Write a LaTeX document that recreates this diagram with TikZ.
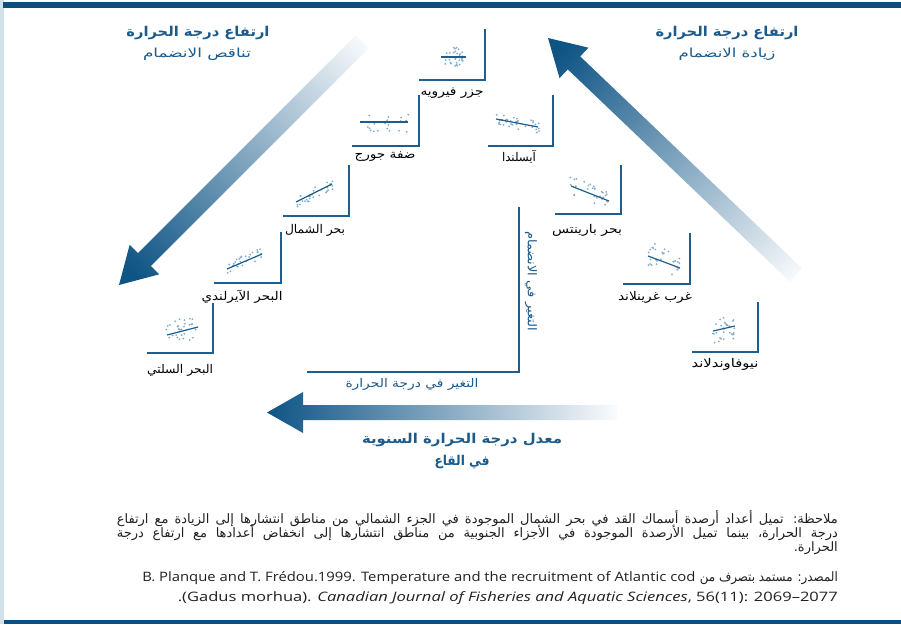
\documentclass[tikz,border=0pt]{standalone}
\usepackage{fontspec}
\usepackage{graphicx}
\setmainfont{Open Sans}
\newfontfamily\ar[Script=Arabic]{DejaVu Sans}
\TeXXeTstate=1
\definecolor{barblue}{HTML}{0B4F80}
\definecolor{txtblue}{HTML}{1B5A8A}
\definecolor{axisblue}{HTML}{1E5E8E}
\definecolor{dotblue}{HTML}{84ABC9}
\definecolor{arrowdark}{HTML}{0E5485}
\definecolor{stripgrey}{HTML}{D3E2EA}
\definecolor{notegrey}{HTML}{231F20}
\pgfdeclarehorizontalshading{fadediag}{100bp}{color(0bp)=(arrowdark); color(18bp)=(arrowdark); color(86bp)=(white); color(100bp)=(white)}
\pgfdeclarehorizontalshading{fadehor}{100bp}{color(0bp)=(arrowdark); color(25bp)=(arrowdark); color(76bp)=(white); color(100bp)=(white)}
\newcommand\fw[2]{\resizebox{#1}{\height}{#2}}
\newcommand\codaxes[4]{\draw[axisline] (#1,#4) -- (#2,#4) -- (#2,#3);}
\newcommand\scat[7]{%
  \pgfmathsetseed{#1}%
  \foreach \i in {1,...,#7}{%
    \pgfmathsetmacro\rx{#2+#4*rand}%
    \pgfmathsetmacro\ry{#3+(#6)*(\rx-(#2))+#5*rand}%
    \fill[dotblue] (\rx,\ry) circle[radius=1pt];
  }}
\begin{document}
\begin{tikzpicture}[x=1pt,y=-1pt,
  axisline/.style={draw=axisblue,line width=1.3pt},
  regline/.style={draw=axisblue,line width=1.2pt},
  plotlabel/.style={font=\ar\fontsize{12}{14}\selectfont,text=black,inner sep=0pt},
  headtitle/.style={font=\ar\bfseries\fontsize{13.5}{15}\selectfont,text=txtblue,inner sep=0pt},
  subtitle/.style={font=\ar\fontsize{12.5}{14}\selectfont,text=txtblue,inner sep=0pt},
  axlabel/.style={font=\ar\fontsize{12}{14}\selectfont,text=txtblue,inner sep=0pt},
  noteline/.style={font=\ar\fontsize{13}{15}\selectfont,text=notegrey,inner sep=0pt,anchor=east},
  srcline/.style={font=\fontsize{13}{15}\selectfont,text=notegrey,inner sep=0pt,anchor=east}]
\useasboundingbox (0,0) rectangle (901,624);
\fill[white] (0,0) rectangle (901,624);
% frame bars
\fill[stripgrey] (0,0) rectangle (4,624);
\fill[barblue] (3,2) rectangle (901,7.5);
\fill[barblue] (4,619.5) rectangle (901,624);
% big arrows
\path[shading=fadediag,shading angle=45]
  (119,285) -- (159.3,274.3) -- (150.9,265.9) -- (368.4,48.4) -- (355.6,35.6) -- (138.1,253.1) -- (129.7,244.7) -- cycle;
\path[shading=fadediag,shading angle=-45]
  (548,38) -- (588.5,47.7) -- (580.2,56.4) -- (802.2,268.5) -- (789.8,281.5) -- (567.8,69.4) -- (559.5,78.1) -- cycle;
\path[shading=fadehor,shading angle=0]
  (267,412.5) -- (303,392) -- (303,405) -- (617,405) -- (617,420) -- (303,420) -- (303,433) -- cycle;
% axis frame of the whole diagram
\coordinate (xl) at (307,372);
\coordinate (xc) at (519,372);
\coordinate (yt) at (519,207);
\draw[axisline,line width=1.1pt] (xl) -- (xc) -- (yt);
\node[axlabel] (xlab) at (412,384) {\fw{133pt}{\beginR التغير في درجة الحرارة\endR}};
\node[axlabel,rotate=-90] (ylab) at (531,281) {\fw{100pt}{\beginR التغير في الانضمام\endR}};
% titles
\node[headtitle] (tl1) at (198,33) {\fw{143pt}{\beginR ارتفاع درجة الحرارة\endR}};
\node[subtitle] (tl2) at (197,54) {\fw{108pt}{\beginR تناقص الانضمام\endR}};
\node[headtitle] (tr1) at (727,33) {\fw{143pt}{\beginR ارتفاع درجة الحرارة\endR}};
\node[subtitle] (tr2) at (727,54) {\fw{97pt}{\beginR زيادة الانضمام\endR}};
\node[headtitle] (bt1) at (462,440) {\fw{200pt}{\beginR معدل درجة الحرارة السنوية\endR}};
\node[headtitle] (bt2) at (462,462) {\fw{55pt}{\beginR في القاع\endR}};
% plots: Faroe
\codaxes{419}{485}{29}{80}
\scat{11}{453}{57}{10}{11}{0}{30}
\draw[regline] (441,57) -- (466,57);
\node[plotlabel] (faroe) at (452,93) {\fw{63pt}{\beginR جزر فيرويه\endR}};
% George's Bank
\codaxes{352}{419}{95}{146}
\scat{12}{384}{123}{25}{9}{0}{20}
\draw[regline] (360,122) -- (408,122);
\node[plotlabel] (george) at (385,157) {\fw{61pt}{\beginR ضفة جورج\endR}};
% Iceland
\codaxes{488}{553}{95}{146}
\scat{13}{517}{123}{22}{6}{0.19}{35}
\draw[regline] (496,119) -- (538,127);
\node[plotlabel] (iceland) at (519,157) {\fw{34pt}{\beginR آيسلندا\endR}};
% North Sea
\codaxes{283}{349}{165}{216}
\scat{14}{314}{193}{19}{6}{-0.5}{30}
\draw[regline] (296,202) -- (332,184);
\node[plotlabel] (north) at (315,230) {\fw{60pt}{\beginR بحر الشمال\endR}};
% Irish Sea
\codaxes{214}{281}{232}{283}
\scat{15}{244}{262}{18}{7}{-0.43}{30}
\draw[regline] (227,269) -- (262,254);
\node[plotlabel] (irish) at (242,297) {\fw{81pt}{\beginR البحر الآيرلندي\endR}};
% Celtic Sea
\codaxes{147}{213}{303}{353}
\scat{16}{182}{331}{16}{13}{-0.26}{30}
\draw[regline] (167,335) -- (198,327);
\node[plotlabel] (celtic) at (180,370) {\fw{66pt}{\beginR البحر السلتي\endR}};
% Barents
\codaxes{555}{621}{165}{214}
\scat{17}{590}{193}{20}{9}{0.39}{30}
\draw[regline] (571,186) -- (609,201);
\node[plotlabel] (barents) at (587,230) {\fw{70pt}{\beginR بحر بارينتس\endR}};
% West Greenland
\codaxes{623}{690}{233}{284}
\scat{18}{664}{260}{16}{13}{0.375}{30}
\draw[regline] (648,256) -- (680,268);
\node[plotlabel] (wgreen) at (655,297) {\fw{74pt}{\beginR غرب غرينلاند\endR}};
% Newfoundland
\codaxes{692}{758}{302}{352}
\scat{19}{724}{330}{11}{13}{-0.23}{30}
\draw[regline] (713,331) -- (735,326);
\node[plotlabel] (newf) at (725,364) {\fw{67pt}{\beginR نيوفاوندلاند\endR}};
% note
\node[noteline] (n1) at (838,519) {\makebox[721pt][s]{\beginR ملاحظة: تميل أعداد أرصدة أسماك القد في بحر الشمال الموجودة في الجزء الشمالي من مناطق انتشارها إلى الزيادة مع ارتفاع\endR}};
\node[noteline] (n2) at (838,533) {\makebox[721pt][s]{\beginR درجة الحرارة، بينما تميل الأرصدة الموجودة في الأجزاء الجنوبية من مناطق انتشارها إلى انخفاض أعدادها مع ارتفاع درجة\endR}};
\node[noteline] (n3) at (838,548) {\beginR الحرارة.\endR};
\node[noteline] (s1a) at (838,578) {\fw{138pt}{\beginR المصدر: مستمد بتصرف من\endR}};
\node[srcline] (s1b) at ([xshift=-4pt]s1a.west) {\fw{553pt}{B. Planque and T. Frédou.1999. Temperature and the recruitment of Atlantic cod}};
\node[srcline] (s2) at (838,598) {\fw{660pt}{.(Gadus morhua). \textit{Canadian Journal of Fisheries and Aquatic Sciences}, 56(11): 2069–2077}};
\end{tikzpicture}
\end{document}
